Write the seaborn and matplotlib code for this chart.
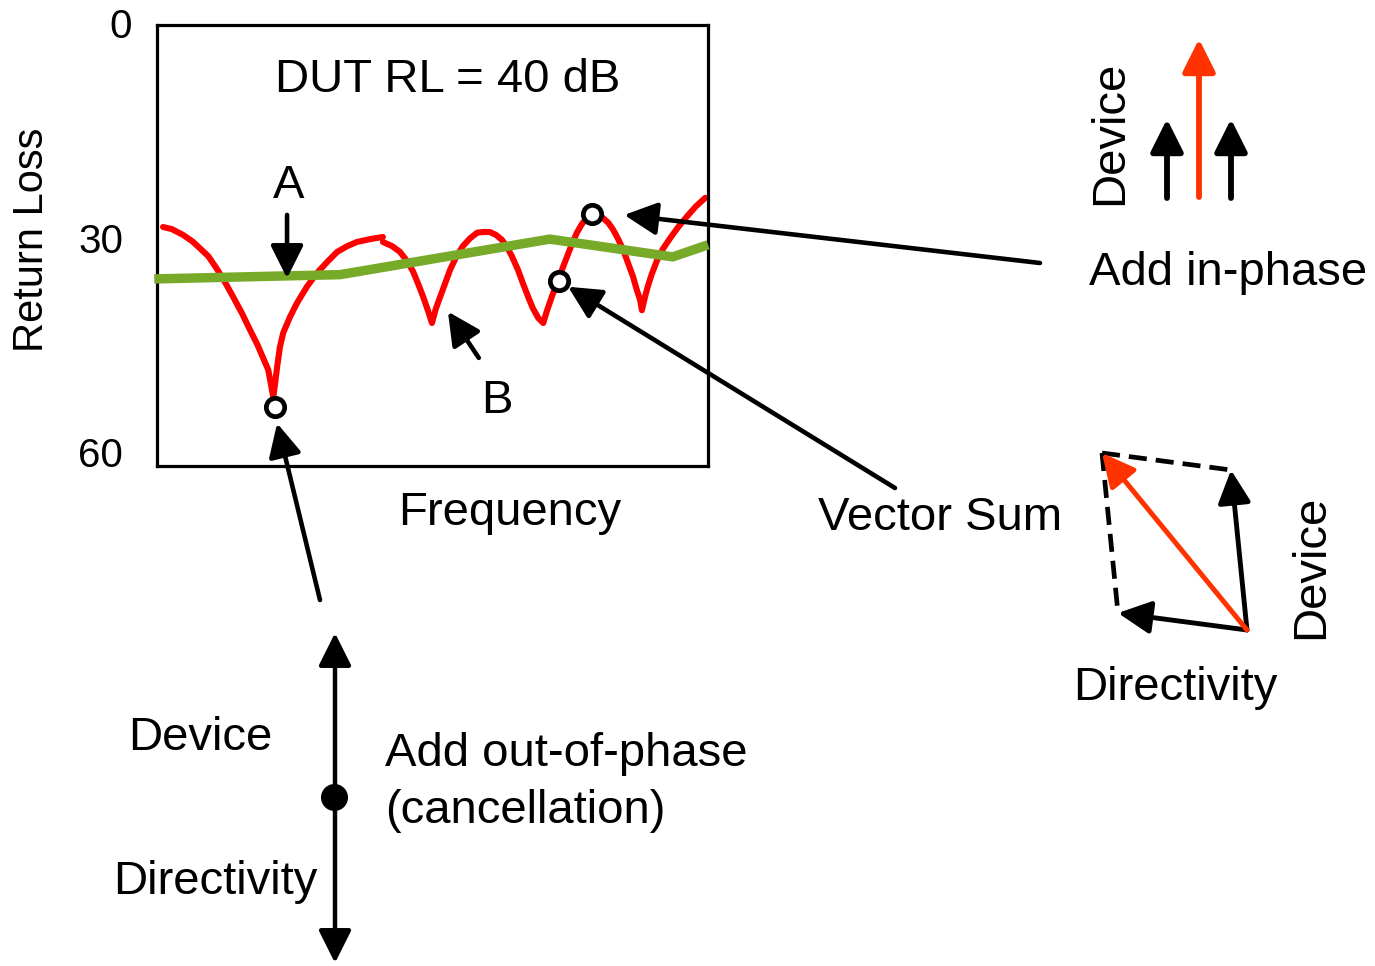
import matplotlib
matplotlib.use("Agg")
import numpy as np
import pandas as pd
import seaborn as sns
import matplotlib.pyplot as plt
import matplotlib.transforms as mtransforms

# Return-loss trace: frequency in % of span, return loss in dB (two sweep segments)
trace_freq_1 = [1.1, 2.7, 4.7, 6.4, 7.8, 9.3, 10.8, 12.3, 13.8, 15.4, 16.9, 18.2, 19.2,
                20.2, 20.7, 21.1, 21.4, 21.8, 22.3, 22.9, 24.1, 25.4, 27.2, 29.0, 30.9,
                32.7, 34.5, 36.3, 38.7, 41.0]
trace_rl_1 = [28.4, 28.7, 29.5, 30.4, 31.4, 32.5, 34.2, 36.1, 38.2, 40.5, 42.9, 44.9, 46.7,
              48.5, 50.6, 52.3, 50.6, 48.1, 45.3, 43.3, 41.1, 39.1, 36.8, 34.9, 33.3,
              31.9, 31.1, 30.5, 30.1, 29.8]
trace_freq_2 = [41.0, 42.7, 44.1, 45.4, 46.5, 47.4, 48.3, 49.2, 49.9, 50.6, 51.4, 52.3,
                53.2, 54.3, 55.5, 56.8, 58.1, 59.2, 60.4, 61.5, 62.6, 63.5, 64.4, 65.5,
                66.4, 67.3, 68.2, 69.2, 70.1, 70.8, 71.7, 72.8, 73.7, 74.4, 75.3, 76.2,
                77.1, 78.0, 79.0, 80.0, 80.9, 81.9, 82.8, 83.7, 84.6, 85.5, 86.4, 87.1,
                87.7, 88.0, 88.6, 89.1, 89.8, 90.7, 91.8, 93.1, 94.6, 96.2, 97.8, 99.5]
trace_rl_2 = [30.5, 31.1, 31.9, 33.2, 34.7, 36.4, 38.2, 40.2, 41.9, 39.9, 38.2, 36.3,
              34.4, 32.6, 31.1, 30.0, 29.2, 29.1, 29.1, 29.5, 30.2, 31.2, 32.5, 34.4,
              36.3, 38.1, 39.8, 41.2, 41.9, 40.1, 38.1, 35.9, 34.0, 32.6, 30.8, 29.2,
              28.0, 27.1, 26.6, 26.7, 27.1, 27.8, 28.8, 30.1, 31.6, 33.5, 35.4, 37.3,
              38.7, 40.1, 38.1, 36.7, 35.0, 33.2, 31.5, 30.0, 28.4, 26.9, 25.5, 24.3]

# Effective directivity level across the band
ref_freq = [-0.5, 33.2, 71.3, 93.6, 100.0]
ref_rl = [35.7, 35.1, 30.1, 32.6, 30.9]

# Highlighted points on the trace
mark_freq = [21.4, 73.0, 78.9]
mark_rl = [53.7, 36.0, 26.6]

y_ticks = [0, 30, 60]
y_tick_labels = ["0", "30", "60"]

W, H = 1375, 966
RED = "#FF0000"
ORANGE_RED = "#FF3300"
GREEN = "#78AA2A"

sns.set_theme(style="white")
plt.rcParams["font.family"] = ["Liberation Sans", "DejaVu Sans"]
plt.rcParams["lines.scale_dashes"] = False

fig = plt.figure(figsize=(W / 100, H / 100), dpi=100, facecolor="white")

# Full-figure layer in pixel units for the phasor sketches and notes
ov = fig.add_axes([0, 0, 1, 1])
ov.set_xlim(0, W)
ov.set_ylim(H, 0)
ov.axis("off")

ax = fig.add_axes([157 / W, 1 - 466 / H, 551 / W, 441 / H])
ax.set_facecolor("none")

trace = pd.DataFrame({
    "freq": trace_freq_1 + trace_freq_2,
    "rl": trace_rl_1 + trace_rl_2,
    "segment": [0] * len(trace_freq_1) + [1] * len(trace_freq_2),
})
sns.lineplot(data=trace, x="freq", y="rl", units="segment", estimator=None, sort=False,
             color=RED, linewidth=4.4, ax=ax, zorder=2)
sns.lineplot(x=ref_freq, y=ref_rl, sort=False, color=GREEN, linewidth=6.8, ax=ax, zorder=3)
ax.lines[-1].set_clip_on(False)
ax.lines[-1].set_solid_capstyle("butt")
sns.scatterplot(x=mark_freq, y=mark_rl, ax=ax, s=175, marker="o", color="white",
                edgecolor="black", linewidth=3.4, zorder=6, clip_on=False)

ax.set_xlim(0, 100)
ax.set_ylim(62, 0)
ax.set_xticks([])
ax.set_yticks(y_ticks)
ax.set_yticklabels(y_tick_labels)
ax.tick_params(axis="y", length=0, pad=24.5, labelsize=29, labelcolor="black")
for sp in ax.spines.values():
    sp.set_visible(True)
    sp.set_color("black")
    sp.set_linewidth(2.3)
zero_lbl = ax.get_yticklabels()[0]
zero_lbl.set_transform(zero_lbl.get_transform()
                       + mtransforms.ScaledTranslation(0.09, 0.02, fig.dpi_scale_trans))

ax.set_ylabel("Return Loss", fontsize=30, color="black")
ax.yaxis.set_label_coords((52 - 157) / 551, (466 - 240) / 441)
ax.set_xlabel("Frequency", fontsize=34, color="black")
ax.xaxis.set_label_coords((510 - 157) / 551, (466 - 491) / 441)


def head(lw=3.3, style="-|>", color="black"):
    return dict(arrowstyle=f"{style},head_length=20,head_width=10", mutation_scale=1,
                color=color, lw=lw, shrinkA=0, shrinkB=0)


# Arrows pointing into the trace
ax.annotate("", xy=(23.6, 35.6), xytext=(23.6, 26.7), arrowprops=head(), annotation_clip=False)
ax.annotate("", xy=(52.8, 40.3), xytext=(58.4, 46.8), arrowprops=head(), annotation_clip=False)
ax.annotate("", xy=(21.8, 56.0), xytext=(320, 600), textcoords=ov.transData,
            arrowprops=head(), annotation_clip=False)
ax.annotate("", xy=(74.6, 36.8), xytext=(895, 488), textcoords=ov.transData,
            arrowprops=head(), annotation_clip=False)
ax.annotate("", xy=(84.8, 26.7), xytext=(1040, 263), textcoords=ov.transData,
            arrowprops=head(), annotation_clip=False)

TXT = dict(fontsize=34, color="black")
ov.text(448, 92, "DUT RL = 40 dB", ha="center", va="baseline", **TXT)
ov.text(289, 198, "A", ha="center", va="baseline", **TXT)
ov.text(497, 413, "B", ha="center", va="baseline", **TXT)
ov.text(940, 530, "Vector Sum", ha="center", va="baseline", **TXT)

# In-phase addition: two equal vectors and their sum
ov.annotate("", xy=(1167, 119), xytext=(1167, 198), arrowprops=head(lw=4.2))
ov.annotate("", xy=(1231, 119), xytext=(1231, 198), arrowprops=head(lw=4.2))
ov.annotate("", xy=(1199, 39), xytext=(1199, 197), arrowprops=head(lw=4.2, color=ORANGE_RED))
ov.text(1122, 133, "Device", rotation=90, rotation_mode="anchor", ha="center",
        va="baseline", **TXT)
ov.text(1228, 285, "Add in-phase", ha="center", va="baseline", **TXT)

# General case: parallelogram of directivity and device vectors
origin = np.array([1247, 630])
directivity_vec = np.array([-129, -17])
device_vec = np.array([-16, -160])
sum_vec = directivity_vec + device_vec
p_dir = origin + directivity_vec
p_dev = origin + device_vec
p_sum = origin + sum_vec
for end in (p_dev, p_dir):
    ov.plot([p_sum[0], end[0]], [p_sum[1], end[1]], color="black", lw=3.4,
            dashes=(13.0, 6.5), dash_capstyle="butt")
ov.annotate("", xy=tuple(p_dir), xytext=tuple(origin), arrowprops=head(lw=3.5))
ov.annotate("", xy=tuple(p_dev), xytext=tuple(origin), arrowprops=head(lw=3.5))
ov.annotate("", xy=tuple(p_sum), xytext=tuple(origin),
            arrowprops=head(lw=3.6, color=ORANGE_RED))
ov.text(1323, 567, "Device", rotation=90, rotation_mode="anchor", ha="center",
        va="baseline", **TXT)
ov.text(1175, 700, "Directivity", ha="center", va="baseline", **TXT)

# Out-of-phase addition: equal and opposite vectors cancel
ov.annotate("", xy=(335, 633), xytext=(335, 963), arrowprops=head(lw=3.2, style="<|-|>"))
ov.scatter([334], [797], s=340, color="black", zorder=5)
ov.text(200, 750, "Device", ha="center", va="baseline", **TXT)
ov.text(215, 894, "Directivity", ha="center", va="baseline", **TXT)
ov.text(385, 766, "Add out-of-phase", ha="left", va="baseline", **TXT)
ov.text(385, 823, "(cancellation)", ha="left", va="baseline", **TXT)

fig.savefig("out.png", dpi=100, facecolor="white")
